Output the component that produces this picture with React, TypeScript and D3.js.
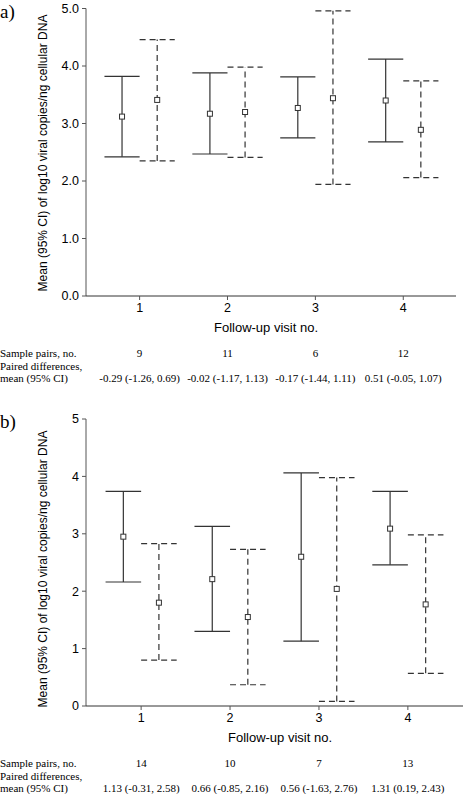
import React from "react";
import * as d3 from "d3";

const visits = [1, 2, 3, 4];

// Panel a
const aSolidMean = [3.12, 3.17, 3.27, 3.40];
const aSolidLow = [2.42, 2.47, 2.75, 2.68];
const aSolidHigh = [3.82, 3.88, 3.81, 4.12];
const aDashMean = [3.41, 3.20, 3.44, 2.89];
const aDashLow = [2.35, 2.41, 1.94, 2.06];
const aDashHigh = [4.46, 3.98, 4.96, 3.74];
const aYTicks = [0, 1, 2, 3, 4, 5];
const aPairs = ["9", "11", "6", "12"];
const aDiffs = ["-0.29 (-1.26, 0.69)", "-0.02 (-1.17, 1.13)", "-0.17 (-1.44, 1.11)", "0.51 (-0.05, 1.07)"];

// Panel b
const bSolidMean = [2.95, 2.21, 2.60, 3.09];
const bSolidLow = [2.16, 1.30, 1.13, 2.46];
const bSolidHigh = [3.74, 3.13, 4.06, 3.74];
const bDashMean = [1.80, 1.55, 2.04, 1.77];
const bDashLow = [0.80, 0.37, 0.08, 0.57];
const bDashHigh = [2.83, 2.73, 3.98, 2.98];
const bYTicks = [0, 1, 2, 3, 4, 5];
const bPairs = ["14", "10", "7", "13"];
const bDiffs = ["1.13 (-0.31, 2.58)", "0.66 (-0.85, 2.16)", "0.56 (-1.63, 2.76)", "1.31 (0.19, 2.43)"];

const yTitle = "Mean (95% CI) of log10 viral copies/ng cellular DNA";
const xTitle = "Follow-up visit no.";

const SANS = "Liberation Sans, Arial, sans-serif";
const SERIF = "Liberation Serif, Times New Roman, serif";
const COL = "#333";

type PanelProps = {
  label: string;
  top: number;
  bottom: number;
  right: number;
  xDomain: [number, number];
  solidMean: number[];
  solidLow: number[];
  solidHigh: number[];
  dashMean: number[];
  dashLow: number[];
  dashHigh: number[];
  yTicks: number[];
  tickFmt: (v: number) => string;
  pairs: string[];
  diffs: string[];
  xTitleX: number;
  labelY: number;
  titleCY: number;
};

function Panel(p: PanelProps) {
  const left = 86;
  const x = d3.scaleLinear().domain(p.xDomain).range([left, p.right]);
  const y = d3.scaleLinear().domain([0, 5]).range([p.bottom, p.top]);
  const off = 0.2;
  const cap = 0.2;
  const bar = (v: number, dx: number, lo: number, hi: number, m: number, dashed: boolean, key: string) => {
    const cx = x(v + dx);
    const dash = dashed ? "6,4" : undefined;
    const w = x(cap) - x(0);
    return (
      <g key={key} stroke={COL} strokeWidth={1.2} fill="none">
        <line x1={cx} x2={cx} y1={y(lo)} y2={y(hi)} strokeDasharray={dash} />
        <line x1={cx - w} x2={cx + w} y1={y(hi)} y2={y(hi)} strokeDasharray={dash} />
        <line x1={cx - w} x2={cx + w} y1={y(lo)} y2={y(lo)} strokeDasharray={dash} />
        <rect x={cx - 2.5} y={y(m) - 2.5} width={5} height={5} fill="#fff" strokeWidth={1} />
      </g>
    );
  };
  const rowY1 = p.bottom + 57;
  return (
    <g>
      <text x={0} y={p.labelY} fontFamily={SERIF} fontSize={19} fill="#000">{p.label}</text>
      <text
        transform={`translate(47,${p.titleCY}) rotate(-90)`}
        textAnchor="middle"
        fontFamily={SANS}
        fontSize={12}
        fill="#000"
      >{yTitle}</text>
      {/* y axis */}
      <line x1={left} x2={left} y1={y(5)} y2={y(0)} stroke="#555" strokeWidth={1} />
      {p.yTicks.map((t) => (
        <g key={"yt" + t}>
          <line x1={left - 4} x2={left} y1={y(t)} y2={y(t)} stroke="#555" strokeWidth={1} />
          <text x={left - 7} y={y(t)} dy="0.35em" textAnchor="end" fontFamily={SANS} fontSize={12.5} fill="#000">
            {p.tickFmt(t)}
          </text>
        </g>
      ))}
      {/* x axis */}
      <line x1={left} x2={p.right} y1={y(0)} y2={y(0)} stroke="#333" strokeWidth={1} />
      {visits.map((v) => (
        <g key={"xt" + v}>
          <line x1={x(v)} x2={x(v)} y1={y(0)} y2={y(0) + 4} stroke="#555" strokeWidth={1} />
          <text x={x(v)} y={y(0) + 16} textAnchor="middle" fontFamily={SANS} fontSize={12.5} fill="#000">{v}</text>
        </g>
      ))}
      <text x={p.xTitleX} y={y(0) + 36} textAnchor="middle" fontFamily={SANS} fontSize={13} fill="#000">{xTitle}</text>
      {visits.map((v, i) => bar(v, -off, p.solidLow[i], p.solidHigh[i], p.solidMean[i], false, "s" + i))}
      {visits.map((v, i) => bar(v, off, p.dashLow[i], p.dashHigh[i], p.dashMean[i], true, "d" + i))}
      {/* table */}
      <g fontFamily={SERIF} fontSize={11} fill="#000">
        <text x={0} y={rowY1 + 4}>Sample pairs, no.</text>
        <text x={0} y={rowY1 + 17}>Paired differences,</text>
        <text x={0} y={rowY1 + 29}>mean (95% CI)</text>
        {visits.map((v, i) => (
          <text key={"pr" + i} x={x(v)} y={rowY1 + 4} textAnchor="middle">{p.pairs[i]}</text>
        ))}
        {visits.map((v, i) => (
          <text key={"df" + i} x={x(v)} y={rowY1 + 29} textAnchor="middle">{p.diffs[i]}</text>
        ))}
      </g>
    </g>
  );
}

export default function App() {
  return (
    <svg
      width={464}
      height={794}
      style={{ position: "absolute", left: 0, top: 0, background: "#fff" }}
    >
      <rect width={464} height={794} fill="#fff" />
      <Panel
        label="a)"
        top={8.5}
        bottom={296}
        right={456}
        xDomain={[0.39, 4.6]}
        solidMean={aSolidMean}
        solidLow={aSolidLow}
        solidHigh={aSolidHigh}
        dashMean={aDashMean}
        dashLow={aDashLow}
        dashHigh={aDashHigh}
        yTicks={aYTicks}
        tickFmt={(v) => v.toFixed(1)}
        pairs={aPairs}
        diffs={aDiffs}
        xTitleX={266}
        labelY={18}
        titleCY={153}
      />
      <Panel
        label="b)"
        top={419}
        bottom={706}
        right={463}
        xDomain={[0.38, 4.62]}
        solidMean={bSolidMean}
        solidLow={bSolidLow}
        solidHigh={bSolidHigh}
        dashMean={bDashMean}
        dashLow={bDashLow}
        dashHigh={bDashHigh}
        yTicks={bYTicks}
        tickFmt={(v) => String(v)}
        pairs={bPairs}
        diffs={bDiffs}
        xTitleX={280}
        labelY={428}
        titleCY={569}
      />
    </svg>
  );
}
